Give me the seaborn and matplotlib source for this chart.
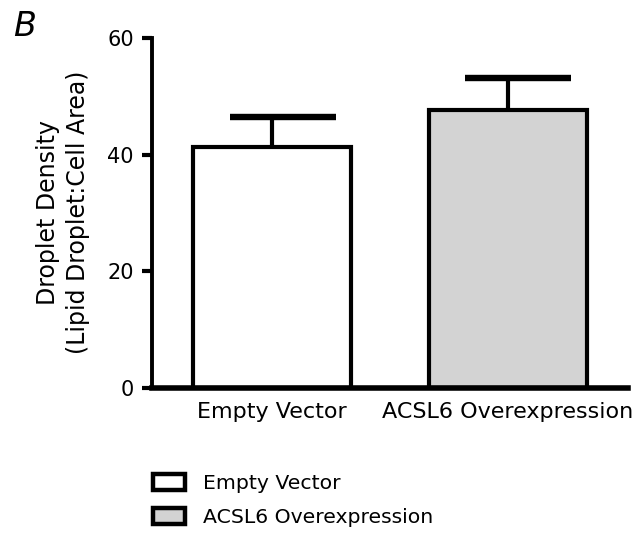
import matplotlib
matplotlib.use("Agg")
import matplotlib.pyplot as plt
import pandas as pd
import seaborn as sns
from matplotlib.patches import Patch

# Droplet density per condition (mean and upper SEM)
groups = ["Empty Vector", "ACSL6 Overexpression"]
density = [41.3, 47.6]
sem = [5.2, 5.6]
bar_colors = ["#ffffff", "#d3d3d3"]
y_ticks = [0, 20, 40, 60]

sns.set_theme(style="ticks")
plt.rcParams["font.family"] = ["DejaVu Sans"]
plt.rcParams["text.color"] = "black"

W, H = 640, 533
fig = plt.figure(figsize=(W / 100, H / 100), dpi=100)
ax = fig.add_axes([152 / W, 1 - 388 / H, (628 - 152) / W, (388 - 38) / H])

df = pd.DataFrame({"group": groups, "density": density})
sns.barplot(data=df, x="group", y="density", hue="group", palette=bar_colors,
            width=0.67, edgecolor="black", linewidth=3.0, errorbar=None,
            legend=False, ax=ax, zorder=2)

# one-sided error bars above each bar: stem plus a wide cap
xpos = list(range(len(groups)))
tops = [d + s for d, s in zip(density, sem)]
ax.vlines(xpos, density, tops, colors="black", linewidth=3.0, zorder=1)
ax.hlines(tops, [x - 0.18 for x in xpos], [x + 0.27 for x in xpos],
          colors="black", linewidth=4.6, zorder=1)

ax.set_xlim(-0.51, 1.51)
ax.set_ylim(0, 60)
ax.set_yticks(y_ticks)
ax.set_xlabel("")
ax.set_ylabel("")

sns.despine(ax=ax)
ax.spines["left"].set_linewidth(2.8)
ax.spines["bottom"].set_linewidth(4.0)
ax.spines["left"].set_color("black")
ax.spines["bottom"].set_color("black")
ax.tick_params(axis="y", length=7.2, width=3.0, pad=6, labelsize=15,
               colors="black", direction="out")
ax.tick_params(axis="x", length=0, pad=10, labelsize=16, colors="black")

# two-line y-axis title
fig.text(48 / W, 1 - 213 / H, "Droplet Density", rotation=90, ha="center",
         va="center", fontsize=17)
fig.text(78 / W, 1 - 212 / H, "(Lipid Droplet:Cell Area)", rotation=90,
         ha="center", va="center", fontsize=17)

# panel letter
fig.text(13 / W, 1 - 10 / H, "B", ha="left", va="top", fontsize=24,
         style="italic")

handles = [Patch(facecolor=c, edgecolor="black", linewidth=3.2, label=g)
           for c, g in zip(bar_colors, groups)]
fig.legend(handles=handles, loc="upper left",
           bbox_to_anchor=(153 / W, 1 - 474 / H), frameon=False,
           fontsize=14.7, handlelength=1.55, handleheight=0.85,
           handletextpad=0.9, labelspacing=0.72, borderpad=0,
           borderaxespad=0)

fig.savefig("out.png", dpi=100, facecolor="white")
